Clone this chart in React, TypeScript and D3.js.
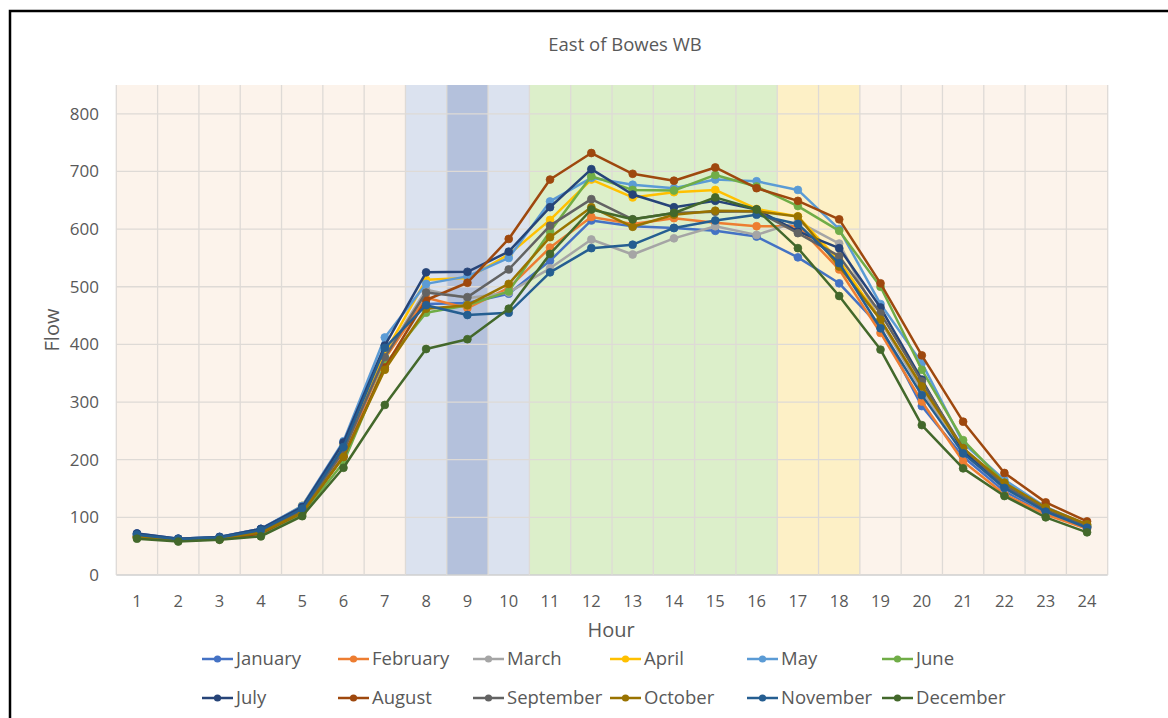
import React from "react";
import * as d3 from "d3";

const hours = d3.range(1, 25);
const yTicks = [0, 100, 200, 300, 400, 500, 600, 700, 800];
const title = "East of Bowes WB";
const xTitle = "Hour";
const yTitle = "Flow";

const months = ["January","February","March","April","May","June","July","August","September","October","November","December"];

const january   = [72,63,66,80,118,228,390,470,472,488,545,615,605,602,597,587,551,506,430,293,205,145,108,82];
const february  = [68,62,64,76,112,210,375,481,463,498,568,621,609,619,611,605,605,530,420,301,197,140,105,80];
const march     = [68,62,65,77,112,215,380,495,480,490,532,582,556,584,605,590,613,575,440,320,215,150,110,83];
const april     = [66,61,64,78,120,225,385,512,515,556,616,686,655,664,668,635,622,545,443,328,218,158,115,86];
const may       = [70,63,66,80,120,232,412,505,518,550,648,689,677,671,686,683,668,600,470,368,229,165,118,87];
const june      = [65,60,62,70,105,195,365,455,468,492,596,692,668,667,694,674,640,597,500,356,234,160,115,86];
const july      = [72,63,66,80,118,230,398,525,526,561,638,704,660,638,649,634,596,567,464,339,215,155,112,84];
const august    = [65,60,62,72,108,205,360,477,507,583,686,732,696,684,707,671,649,617,506,381,266,177,126,93];
const september = [67,61,64,76,112,215,378,490,482,530,606,652,617,628,630,631,593,553,454,336,220,155,112,84];
const october   = [66,61,63,74,108,205,356,462,468,505,586,638,604,625,632,631,622,535,443,327,220,160,117,88];
const november  = [70,62,65,78,115,222,394,468,451,455,525,567,573,602,615,625,609,541,428,312,211,151,110,82];
const december  = [63,58,61,67,102,186,295,392,409,462,557,634,617,628,655,634,567,484,391,260,185,137,100,74];

const seriesValues = [january,february,march,april,may,june,july,august,september,october,november,december];

// time-period bands: [first hour, last hour, kind]
const bandFrom = [1, 8, 9, 10, 11, 17, 19];
const bandTo   = [7, 8, 9, 10, 16, 18, 24];
const bandKind = ["off", "am", "peak", "am", "mid", "pm", "off"];

const colors = ["#4472C4","#ED7D31","#A5A5A5","#FFC000","#5B9BD5","#70AD47","#264478","#9E480E","#636363","#997300","#255E91","#43682B"];
const bandColors: Record<string, string> = { off: "#fcf3eb", am: "#dbe2ef", peak: "#b4c1dc", mid: "#dcefca", pm: "#fdf0c6" };

const W = 1168, H = 718;
const left = 116.3, right = 1107.7, top = 85, bottom = 575;
const font = "'Open Sans', 'Liberation Sans', sans-serif";

export default function App() {
  const x = d3.scaleBand<number>().domain(hours).range([left, right]).paddingInner(0).paddingOuter(0);
  const bw = x.bandwidth();
  const cx = (h: number) => (x(h) as number) + bw / 2;
  const y = d3.scaleLinear().domain([0, 850]).range([bottom, top]);
  const line = d3.line<number>().x((_, i) => cx(hours[i])).y((v) => y(v));

  const legX = [202, 338, 473, 610, 747, 882];
  const legY = [659, 698];

  return (
    <svg width={W} height={H} style={{ position: "absolute", left: 0, top: 0, background: "#fff" }} fontFamily={font}>
      <rect x={0} y={0} width={W} height={H} fill="#fff" />
      {bandFrom.map((f, i) => (
        <rect key={"b" + i} x={x(f) as number} y={top} width={(x(bandTo[i]) as number) + bw - (x(f) as number)} height={bottom - top} fill={bandColors[bandKind[i]]} />
      ))}
      {yTicks.map((t) => (
        <line key={"gy" + t} x1={left} x2={right} y1={y(t)} y2={y(t)} stroke={t === 0 ? "#cfcfcf" : "#dedad6"} strokeWidth={1.3} />
      ))}
      {hours.map((h) => (
        <line key={"gx" + h} x1={x(h) as number} x2={x(h) as number} y1={top} y2={bottom} stroke="#dedad6" strokeWidth={1.3} />
      ))}
      <line x1={right} x2={right} y1={top} y2={bottom} stroke="#dedad6" strokeWidth={1.3} />
      {yTicks.map((t) => (
        <text key={"ty" + t} x={99} y={y(t)} dy="0.35em" textAnchor="end" fontSize={17} fill="#595959">{t}</text>
      ))}
      {hours.map((h) => (
        <text key={"tx" + h} x={cx(h)} y={601} dy="0.35em" textAnchor="middle" fontSize={16.5} fill="#595959">{h}</text>
      ))}
      <text x={625} y={45} dy="0.35em" textAnchor="middle" fontSize={18.5} fill="#595959">{title}</text>
      <text x={611} y={630} dy="0.35em" textAnchor="middle" fontSize={20} fill="#595959">{xTitle}</text>
      <text transform={`translate(52,330) rotate(-90)`} dy="0.35em" textAnchor="middle" fontSize={20} fill="#595959">{yTitle}</text>
      {seriesValues.map((vals, si) => (
        <g key={"s" + si}>
          <path d={line(vals) || ""} fill="none" stroke={colors[si]} strokeWidth={2.5} strokeLinejoin="round" />
          {vals.map((v, i) => (
            <circle key={i} cx={cx(hours[i])} cy={y(v)} r={3.9} fill={colors[si]} stroke={colors[si]} strokeWidth={0.8} />
          ))}
        </g>
      ))}
      {months.map((m, i) => {
        const lx = legX[i % 6];
        const ly = legY[Math.floor(i / 6)];
        return (
          <g key={"l" + i}>
            <line x1={lx} x2={lx + 31} y1={ly} y2={ly} stroke={colors[i]} strokeWidth={2.5} />
            <circle cx={lx + 15.5} cy={ly} r={3.6} fill={colors[i]} />
            <text x={lx + 34} y={ly} dy="0.35em" fontSize={18.5} fill="#595959">{m}</text>
          </g>
        );
      })}
      <rect x={10} y={11} width={W + 20} height={H + 20} fill="none" stroke="#000" strokeWidth={2.5} />
    </svg>
  );
}
